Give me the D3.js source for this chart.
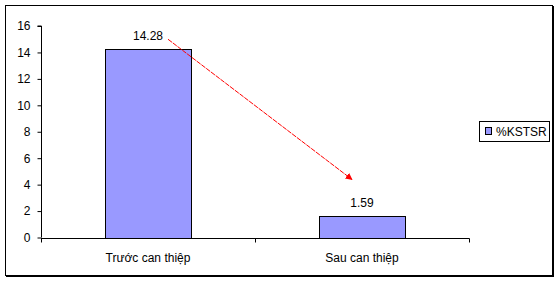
<!DOCTYPE html>
<html>
<head>
<meta charset="utf-8">
<script src="https://cdn.jsdelivr.net/npm/d3@7"></script>
<style>
  body { margin: 0; background: #fff; }
  svg { display: block; font-family: Arial, "Liberation Sans", sans-serif; }
</style>
</head>
<body>
<div id="chart"></div>
<script>
const categories = ['Trước can thiệp', 'Sau can thiệp'];
const values = [14.28, 1.59];
const valueLabels = ['14.28', '1.59'];
const yTicks = [0, 2, 4, 6, 8, 10, 12, 14, 16];
const seriesName = '%KSTSR';

const W = 560, H = 283;
const plot = {left: 41, right: 469, top: 26, bottom: 237.5};

const svg = d3.select('#chart').append('svg')
    .attr('width', W)
    .attr('height', H);

// outer frame with a little shadow on right/bottom
svg.append('rect')
    .attr('x', 5.5).attr('y', 5.5)
    .attr('width', 547).attr('height', 270)
    .attr('fill', '#fff').attr('stroke', '#000');
svg.append('path')
    .attr('d', 'M553.5,6V277M6,276.5H554')
    .attr('stroke', '#000').attr('fill', 'none');

const x = d3.scaleBand()
    .domain(categories)
    .range([plot.left, plot.right])
    .paddingInner(0)
    .paddingOuter(0);

const y = d3.scaleLinear()
    .domain([0, 16])
    .range([plot.bottom, plot.top]);

// y axis
const yAxis = svg.append('g')
    .attr('transform', `translate(${plot.left + 0.5},0)`)
    .call(d3.axisLeft(y).tickValues(yTicks).tickSize(4).tickPadding(7).tickFormat(d3.format('d')));
yAxis.select('.domain').attr('stroke', '#000').attr('d', `M-4,${y(16)}H0V${y(0)}`);
yAxis.selectAll('.tick line').attr('stroke', '#000');
yAxis.selectAll('.tick text').attr('font-size', 12).attr('font-family', 'Arial, "Liberation Sans", sans-serif').attr('fill', '#000');

// bars
const barW = x.bandwidth() * 0.4;
svg.selectAll('rect.bar')
    .data(values)
    .enter()
    .append('rect')
    .attr('class', 'bar')
    .attr('x', (d, i) => Math.round(x(categories[i]) + x.bandwidth() / 2 - barW / 2) + 0.5)
    .attr('y', d => Math.round(y(d)) + 0.5)
    .attr('width', Math.round(barW))
    .attr('height', d => Math.round(y(0)) - Math.round(y(d)))
    .attr('fill', '#9999ff')
    .attr('stroke', '#000');

// x axis line + boundary ticks
const xBase = Math.round(y(0)) + 0.5;
const bounds = [plot.left, ...categories.map(c => x(c) + x.bandwidth())];
svg.append('line')
    .attr('x1', plot.left).attr('x2', plot.right + 0.5)
    .attr('y1', xBase).attr('y2', xBase)
    .attr('stroke', '#000');
svg.selectAll('line.xtick')
    .data(bounds)
    .enter()
    .append('line')
    .attr('class', 'xtick')
    .attr('x1', d => Math.round(d) + 0.5).attr('x2', d => Math.round(d) + 0.5)
    .attr('y1', xBase).attr('y2', xBase + 4)
    .attr('stroke', '#000');

// category labels
svg.selectAll('text.cat')
    .data(categories)
    .enter()
    .append('text')
    .attr('class', 'cat')
    .attr('x', d => x(d) + x.bandwidth() / 2)
    .attr('y', xBase + 23.5)
    .attr('text-anchor', 'middle')
    .attr('font-size', 12)
    .text(d => d);

// value labels
svg.selectAll('text.val')
    .data(values)
    .enter()
    .append('text')
    .attr('class', 'val')
    .attr('x', (d, i) => x(categories[i]) + x.bandwidth() / 2)
    .attr('y', d => y(d) - 9)
    .attr('text-anchor', 'middle')
    .attr('font-size', 12)
    .text((d, i) => valueLabels[i]);

// red arrow from first label to second
svg.append('defs').append('marker')
    .attr('id', 'arrow')
    .attr('viewBox', '0 0 10 10')
    .attr('refX', 9).attr('refY', 5)
    .attr('markerWidth', 7).attr('markerHeight', 7)
    .attr('markerUnits', 'userSpaceOnUse')
    .attr('orient', 'auto')
    .append('path')
    .attr('d', 'M0,0L10,5L0,10z')
    .attr('fill', '#ff0000');

const c0 = x(categories[0]) + x.bandwidth() / 2;
const c1 = x(categories[1]) + x.bandwidth() / 2;
svg.append('line')
    .attr('x1', c0 + 20).attr('y1', y(values[0]) - 9.5)
    .attr('x2', c1 - 10).attr('y2', y(values[1]) - 37)
    .attr('stroke', '#ff0000')
    .attr('stroke-width', 1)
    .attr('stroke-dasharray', '5,1')
    .attr('marker-end', 'url(#arrow)');

// legend
const legend = svg.append('g').attr('transform', 'translate(479.5,121.5)');
legend.append('rect')
    .attr('width', 70).attr('height', 20)
    .attr('fill', '#fff').attr('stroke', '#000');
legend.append('rect')
    .attr('x', 6).attr('y', 6)
    .attr('width', 6).attr('height', 7)
    .attr('fill', '#9999ff').attr('stroke', '#000');
legend.append('text')
    .attr('x', 16.5).attr('y', 14.5)
    .attr('font-size', 12)
    .text(seriesName);
</script>
</body>
</html>
